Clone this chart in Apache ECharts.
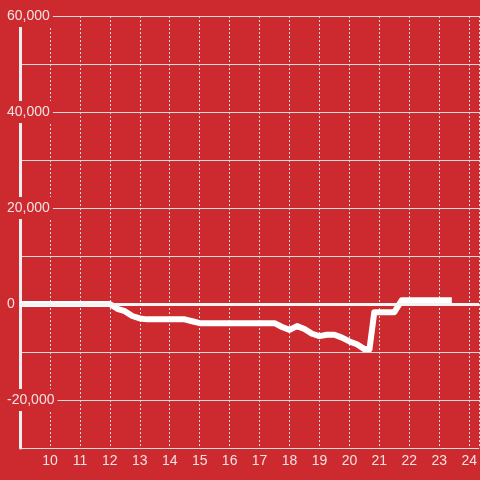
<!DOCTYPE html>
<html>
<head>
<meta charset="utf-8">
<script src="https://cdn.jsdelivr.net/npm/echarts@6/dist/echarts.min.js"></script>
<style>
  html, body { margin: 0; padding: 0; background: #cc2a2f; }
  #chart { width: 480px; height: 480px; }
</style>
</head>
<body>
<div id="chart"></div>
<script>
// hour of day and running value
const hours = [9, 12, 12.25, 12.5, 12.75, 13, 13.25, 14.5, 14.75, 15, 17.5, 17.75, 18, 18.25, 18.5, 18.75, 19, 19.25, 19.5, 19.75, 20, 20.25, 20.5, 20.67, 20.83, 21.5, 21.75, 23.42]
const values = [0, 0, -1000, -1500, -2500, -3000, -3200, -3200, -3600, -4000, -4000, -4800, -5400, -4600, -5200, -6200, -6700, -6400, -6400, -7000, -7800, -8400, -9400, -9400, -1700, -1700, 800, 800]
const yLabels = [-20000, 0, 20000, 40000, 60000]

const chart = echarts.init(document.getElementById('chart'))

const bg = '#cc2a2f'
const textColor = '#f3e2e2'
const gridColor = '#dcdcdc'

const option = {
  backgroundColor: bg,
  animation: false,
  grid: { left: 20, right: 0, top: 16, bottom: 32 },
  xAxis: {
    type: 'value',
    min: 9,
    max: 24 + 1 / 3,
    interval: 1,
    axisLine: { show: false },
    axisTick: { show: false },
    axisLabel: {
      showMinLabel: false,
      showMaxLabel: false,
      color: textColor,
      fontSize: 14,
      fontFamily: 'Liberation Sans',
      margin: 6,
    },
    splitLine: {
      show: true,
      lineStyle: { color: gridColor, type: [2, 2], width: 1 },
    },
  },
  yAxis: {
    type: 'value',
    min: -30000,
    max: 60000,
    interval: 10000,
    axisLine: { show: true, lineStyle: { color: '#eeeeee', width: 3 } },
    axisTick: { show: false },
    axisLabel: {
      customValues: yLabels,
      formatter: (v) => v.toLocaleString('en-US'),
      color: textColor,
      fontSize: 14,
      fontFamily: 'Liberation Sans',
      align: 'left',
      margin: 13,
      backgroundColor: bg,
      padding: [4, 3, 4, 0],
    },
    splitLine: {
      show: true,
      lineStyle: { color: gridColor, width: 1 },
    },
  },
  series: [
    {
      type: 'line',
      data: hours.map((h, i) => [h, values[i]]),
      showSymbol: false,
      lineStyle: { color: '#ffffff', width: 6, cap: 'butt', join: 'round' },
      markLine: {
        silent: true,
        symbol: 'none',
        label: { show: false },
        lineStyle: { color: '#f4f4f4', width: 3, type: 'solid' },
        data: [{ yAxis: 0 }],
      },
    },
  ],
}

chart.setOption(option)
</script>
</body>
</html>
